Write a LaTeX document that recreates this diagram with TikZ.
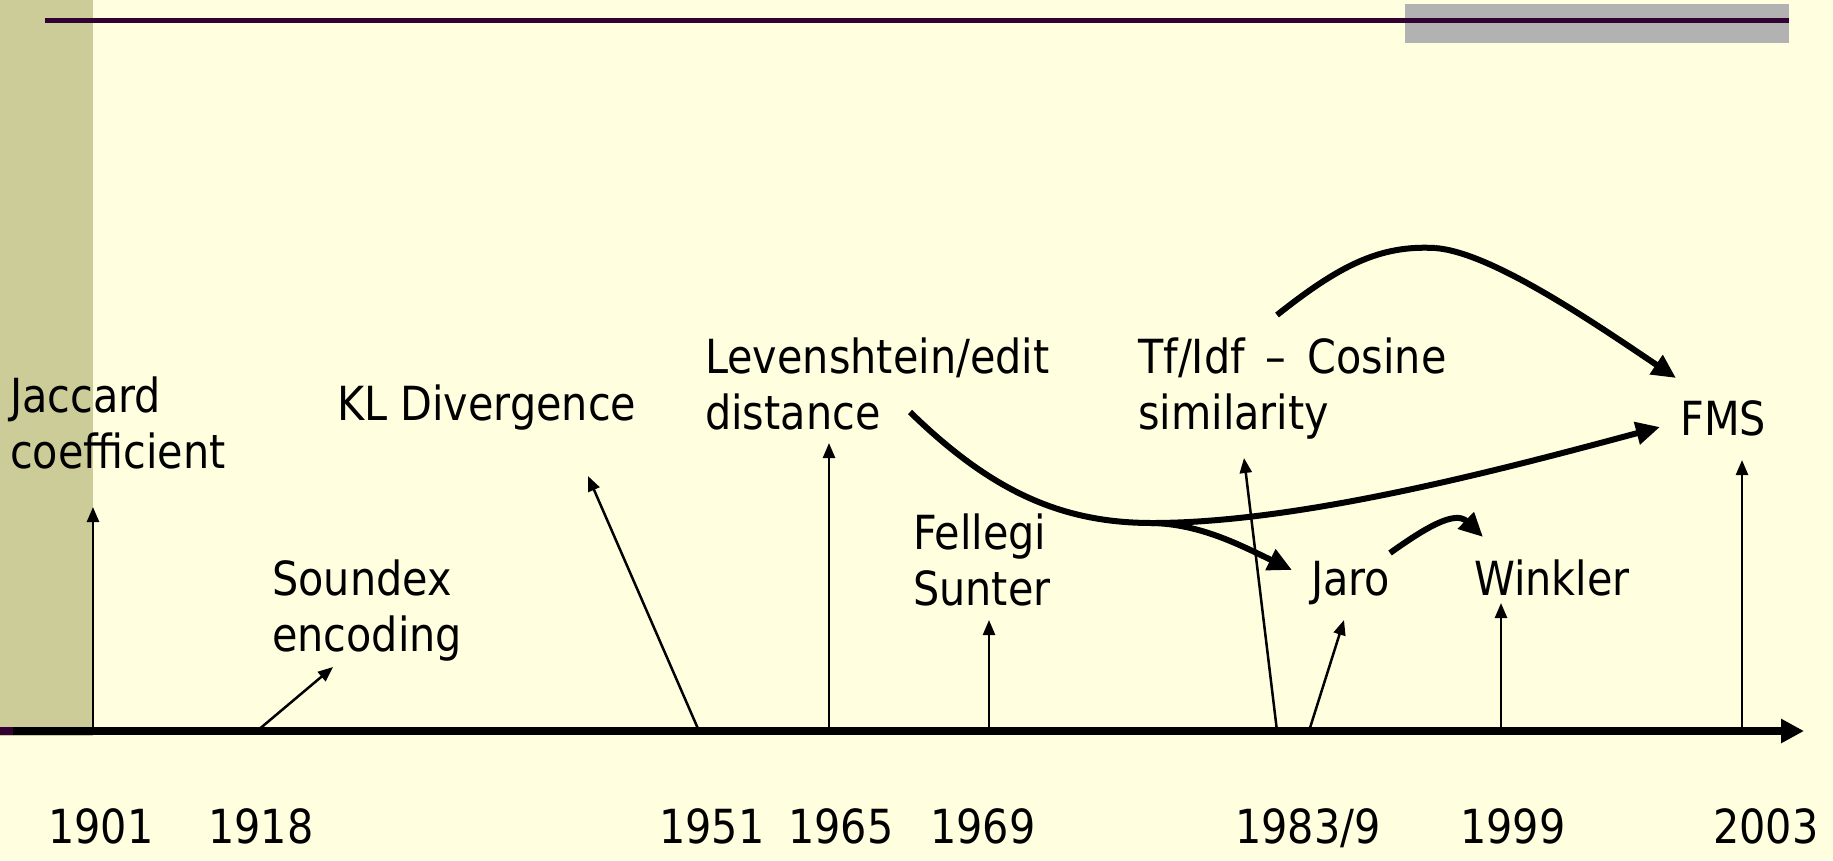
\documentclass[tikz,border=0pt]{standalone}
\usepackage{fontspec}
\setmainfont{DejaVu Sans}[FakeStretch=0.88]
\usetikzlibrary{arrows.meta}
\definecolor{bg}{HTML}{FFFFE0}
\definecolor{strip}{HTML}{CCCC99}
\definecolor{topline}{HTML}{330033}
\definecolor{graybar}{HTML}{B2B2B2}
\begin{document}
\begin{tikzpicture}[x=1pt,y=-1pt,
  lbl/.style={anchor=base west,inner sep=0pt,align=left,font=\fontsize{47}{56}\selectfont},
  yr/.style={anchor=base west,inner sep=0pt,font=\fontsize{47}{56}\selectfont},
  tick/.style={line width=2.5pt,-{Triangle[length=15pt,width=12pt]}},
  bigarrow/.style={line width=6pt,-{Triangle[length=24pt,width=22pt]}}]
\useasboundingbox (0,0) rectangle (1833,860);
\fill[bg] (0,0) rectangle (1833,860);
\fill[strip] (0,0) rectangle (93,736);
\fill[graybar] (1405,4) rectangle (1789,43);
\draw[topline,line width=5pt] (45,20.5) -- (1789,20.5);
\draw[topline,line width=8pt] (0,731) -- (93,731);
% axis
\coordinate (axs) at (13,731);
\coordinate (axe) at (1804,731);
\draw[line width=8pt,-{Triangle[length=23pt,width=23pt]}] (axs) -- (axe);
% labels (two-line nodes: base = last line)
\node[lbl] (jac) at (10,468) {Jaccard\\coefficient};
\node[lbl] (kl) at (337,420) {KL Divergence};
\node[lbl] (sdx) at (272,651) {Soundex\\encoding};
\node[lbl] (lev) at (705,429) {Levenshtein/edit\\distance};
\node[lbl] (fs) at (913,605) {Fellegi\\Sunter};
\node[lbl] (tf) at (1138,429) {Tf/Idf\, –\, Cosine\\similarity};
\node[lbl] (jaro) at (1311,595) {Jaro};
\node[lbl] (wink) at (1474,595) {Winkler};
\node[lbl] (fms) at (1680,435) {FMS};
% years
\node[yr] (y1901) at (48,843) {1901};
\node[yr] (y1918) at (208,843) {1918};
\node[yr] (y1951) at (659,843) {1951};
\node[yr] (y1965) at (788,843) {1965};
\node[yr] (y1969) at (930,843) {1969};
\node[yr] (y1983) at (1235,843) {1983/9};
\node[yr] (y1999) at (1460,843) {1999};
\node[yr] (y2003) at (1713,843) {2003};
% axis points and tips
\coordinate (a1) at (93,731);    \coordinate (t1) at (93,507);
\coordinate (a2) at (257,731);   \coordinate (t2) at (333,667);
\coordinate (a3) at (699,731);   \coordinate (t3) at (588,476);
\coordinate (a4) at (829,731);   \coordinate (t4) at (829,443);
\coordinate (a5) at (989,731);   \coordinate (t5) at (989,620);
\coordinate (a6) at (1277,731);  \coordinate (t6) at (1244,458);
\coordinate (a7) at (1309,731);  \coordinate (t7) at (1344,620);
\coordinate (a8) at (1501,731);  \coordinate (t8) at (1501,603);
\coordinate (a9) at (1742,731);  \coordinate (t9) at (1742,460);
\foreach \i in {1,...,9} \draw[tick] (a\i) -- (t\i);
% thick curves
\coordinate (levs) at (910,412);
\coordinate (lbot) at (1152,523);
\coordinate (fmsin) at (1660,427);
\coordinate (jaroin) at (1292,570);
\coordinate (tfs) at (1277,315);
\coordinate (tftop) at (1435,248);
\coordinate (fmstop) at (1676,378);
\coordinate (jaros) at (1390,553);
\coordinate (winkin) at (1483,537);
\draw[line width=6pt] (levs) .. controls (990,490) and (1060,523) .. (lbot);
\draw[bigarrow] (lbot) .. controls (1300,523) and (1500,470) .. (fmsin);
\draw[bigarrow] (lbot) .. controls (1200,524) and (1240,545) .. (jaroin);
\draw[line width=6pt] (tfs) .. controls (1340,265) and (1380,245) .. (tftop);
\draw[bigarrow] (tftop) .. controls (1490,252) and (1590,320) .. (fmstop);
\draw[bigarrow] (jaros) .. controls (1425,528) and (1455,510) .. (winkin);
\end{tikzpicture}
\end{document}
